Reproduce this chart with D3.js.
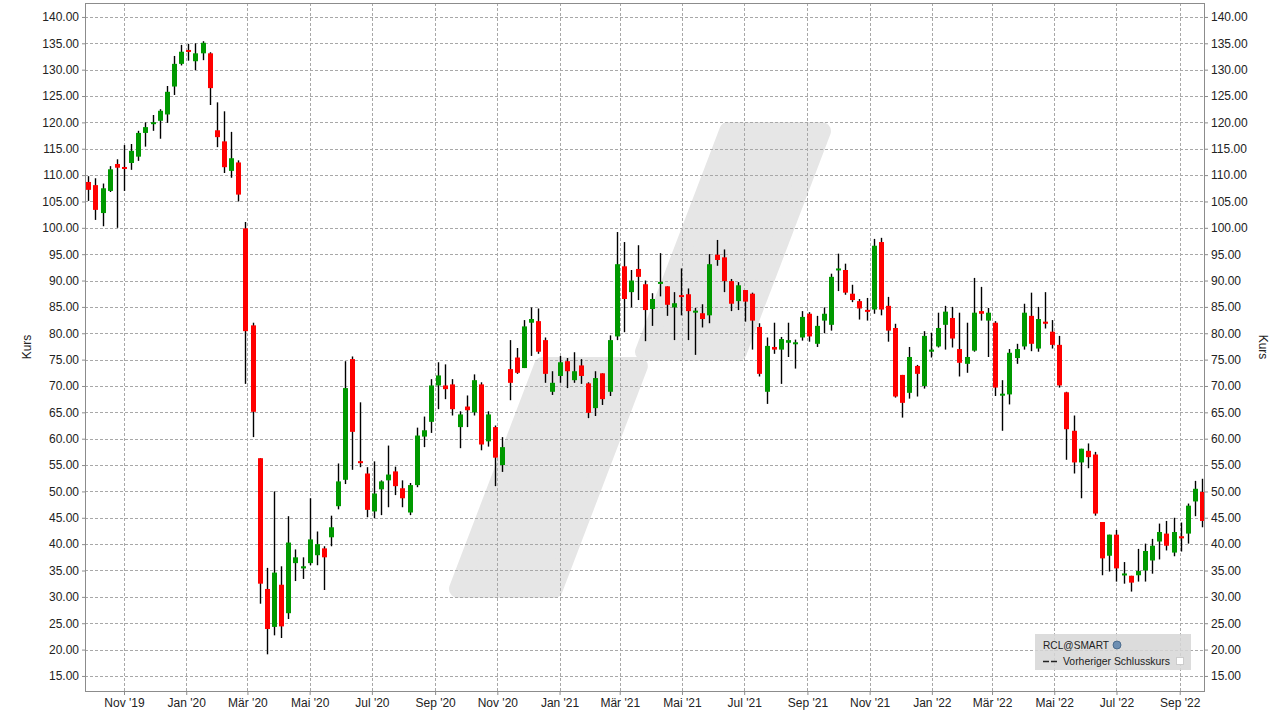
<!DOCTYPE html>
<html><head><meta charset="utf-8">
<script src="https://cdn.jsdelivr.net/npm/d3@7"></script>
<style>body{margin:0;background:#fff;}svg{display:block;font-family:"Liberation Sans",Arial,sans-serif;}</style>
</head><body><svg id="c" width="1279" height="720"></svg>
<script>
// weekly candles, first week ending 2019-09-27
const firstWeek = new Date(2019, 8, 27);
const open  = [108.7,108.1,102.8,107.0,112.1,111.5,112.3,113.5,118.0,119.7,120.3,121.5,126.8,131.1,133.7,131.6,133.1,133.1,118.5,116.4,110.8,112.4,99.9,81.5,56.3,31.5,24.3,32.3,26.9,36.4,35.4,36.4,37.9,39.2,41.3,47.2,52.2,75.1,55.7,53.4,46.2,50.4,52.1,53.8,50.6,46.0,51.2,60.4,63.2,70.1,70.1,70.3,62.2,66.1,65.0,70.3,59.5,62.2,55.0,73.2,75.4,73.4,82.0,82.3,78.7,68.9,71.9,74.7,71.1,73.9,70.5,65.8,72.4,68.9,79.4,92.7,87.8,92.2,89.3,84.6,89.4,88.9,84.9,87.2,87.4,84.0,83.8,83.4,94.9,94.4,89.9,86.1,88.2,87.5,81.2,68.9,77.4,76.9,78.2,78.0,79.2,83.7,78.0,82.4,81.6,92.0,92.0,87.5,86.1,84.4,84.5,97.3,85.2,81.0,72.1,68.7,73.8,70.0,76.5,77.5,81.6,82.9,77.0,74.2,76.7,84.2,82.4,82.0,68.2,68.4,75.3,77.5,83.3,77.1,82.2,80.3,77.8,68.8,61.5,55.5,57.7,57.0,44.2,37.8,41.8,34.1,34.0,34.1,35.0,36.9,40.5,42.0,38.4,41.5,42.0,48.1,49.9];
const high  = [109.8,109.4,108.4,111.7,113.0,115.7,115.9,118.4,120.0,121.4,122.5,126.9,132.6,134.7,134.9,135.0,135.4,133.3,123.8,122.1,118.2,112.8,101.1,82.0,56.3,35.5,50.0,35.8,45.3,39.0,37.5,48.7,42.4,39.6,45.4,55.3,74.7,75.6,66.9,54.6,55.7,52.1,58.7,54.7,52.1,51.6,62.1,64.2,71.3,74.5,74.1,71.3,65.2,68.2,72.2,70.7,65.2,62.5,60.3,78.7,77.2,82.5,84.9,84.7,79.2,72.8,75.7,75.3,76.4,75.1,70.7,72.8,72.4,79.6,99.2,97.3,92.0,96.7,90.0,87.6,95.2,88.9,87.8,92.3,88.5,84.8,85.5,95.0,97.7,95.9,90.3,89.7,88.2,87.7,81.9,79.2,82.0,79.3,82.0,78.8,84.2,84.0,83.3,84.9,91.3,95.1,93.2,89.2,86.5,86.7,97.9,98.1,86.9,81.8,72.1,77.4,74.0,80.4,80.1,83.9,85.2,85.0,83.9,82.0,90.5,88.8,84.8,82.3,71.1,77.0,78.0,85.6,87.7,85.0,87.8,82.5,79.5,68.9,64.4,58.1,59.1,57.5,44.2,41.8,42.7,36.6,34.0,39.1,40.1,41.0,43.9,44.4,45.0,44.1,47.7,52.0,52.4];
const low   = [105.1,101.5,100.3,106.8,100.0,107.0,111.0,112.7,115.4,118.4,116.9,119.9,125.2,130.8,131.7,129.9,131.8,123.3,115.3,110.4,109.5,105.0,70.4,60.3,28.7,19.1,22.7,22.2,25.8,33.0,33.4,36.0,36.0,31.3,39.6,46.6,51.4,54.1,54.6,45.1,44.9,45.5,47.0,49.3,47.0,45.5,50.8,58.4,61.1,65.6,67.5,64.4,58.2,62.2,64.4,57.8,58.5,51.0,53.7,67.3,72.3,73.4,75.7,76.1,70.6,68.3,70.6,69.6,70.6,70.4,63.9,64.3,66.4,68.1,78.7,80.2,84.9,86.3,78.5,81.4,87.0,83.3,78.7,83.4,78.7,75.9,81.1,81.9,92.8,87.8,84.2,84.4,82.2,76.9,71.8,66.6,76.1,70.4,75.5,73.3,78.6,78.4,77.4,80.0,80.5,88.0,87.3,85.9,82.6,82.4,83.7,83.4,78.4,67.8,64.0,67.6,68.0,69.5,75.4,77.3,76.9,77.3,71.8,72.5,76.5,82.4,75.5,68.1,61.5,66.5,74.2,76.9,76.6,76.5,80.9,77.1,69.7,56.0,53.4,48.7,54.4,45.4,34.1,34.8,32.9,32.5,31.0,32.9,32.9,34.4,37.1,38.8,37.7,38.6,40.1,45.3,43.2];
const close = [107.2,103.4,107.5,111.1,111.4,111.2,114.6,118.0,119.1,120.0,122.2,125.8,131.1,133.4,133.4,133.1,135.1,126.5,117.2,111.5,113.2,106.3,80.4,65.1,32.5,23.9,34.6,24.4,40.3,37.5,35.8,40.9,40.0,37.5,43.2,51.9,69.6,61.3,55.4,46.5,49.6,51.9,53.2,51.0,48.7,51.2,60.6,61.6,70.1,72.0,69.4,65.6,64.6,65.4,71.1,58.9,64.6,56.4,58.4,70.6,72.5,81.3,82.7,76.5,72.3,70.6,74.5,72.8,72.8,71.9,64.9,71.5,67.5,78.7,93.1,86.5,90.0,90.7,84.4,86.5,89.7,85.4,85.7,86.9,84.2,84.2,82.7,93.1,93.9,89.9,85.6,89.1,86.0,82.4,72.3,77.6,76.9,78.9,78.7,78.2,83.1,79.4,81.4,83.7,90.7,92.2,87.7,86.3,84.7,84.1,96.6,84.5,80.5,68.0,66.8,75.5,72.3,79.5,76.9,81.0,84.1,79.0,74.4,75.5,83.9,83.7,83.9,69.7,68.5,76.3,77.0,83.9,78.0,82.7,81.8,77.8,70.1,61.8,55.5,58.1,56.5,45.8,37.3,41.8,35.4,34.4,32.7,34.9,38.7,39.7,42.3,39.7,42.3,41.1,47.3,50.5,44.4];
const yTicks = [15,20,25,30,35,40,45,50,55,60,65,70,75,80,85,90,95,100,105,110,115,120,125,130,135,140];
const xTickDates = ["2019-11-01","2020-01-01","2020-03-01","2020-05-01","2020-07-01","2020-09-01","2020-11-01","2021-01-01","2021-03-01","2021-05-01","2021-07-01","2021-09-01","2021-11-01","2022-01-01","2022-03-01","2022-05-01","2022-07-01","2022-09-01"];
const xTickLabels = ["Nov '19","Jan '20","Mär '20","Mai '20","Jul '20","Sep '20","Nov '20","Jan '21","Mär '21","Mai '21","Jul '21","Sep '21","Nov '21","Jan '22","Mär '22","Mai '22","Jul '22","Sep '22"];
const legendTitle = "RCL@SMART";
const legendItem = "Vorheriger Schlusskurs";

const svg = d3.select("#c");
const L = 85, R = 1205, T = 3, B = 692;
const parse = s => { const p = s.split("-"); return new Date(+p[0], +p[1]-1, +p[2]); };
const dates = open.map((_, i) => d3.timeDay.offset(firstWeek, 7*i));
const x = d3.scaleTime().domain([new Date(2019,8,23,18), new Date(2022,8,25,19)]).range([L, R]);
const y = d3.scaleLinear().domain([135 - (B-43.3)/5.272, 135 + (43.3-T)/5.272]).range([B, T]);

// watermark (stepped slash made of two rounded bars)
const W = R - L, H = B - T;
const fx = f => L + f*W, fy = f => T + f*H;
const wmPieces = [
  [[0.5743,0.1858],[0.6580,0.1858],[0.5829,0.5065],[0.4991,0.5065]],
  [[0.4089,0.5269],[0.4945,0.5269],[0.4186,0.8505],[0.3330,0.8505]]
];
wmPieces.forEach(pc => svg.append("polygon")
  .attr("points", pc.map(p => fx(p[0]) + "," + fy(p[1])).join(" "))
  .attr("fill", "#e6e6e6").attr("stroke", "#e6e6e6")
  .attr("stroke-width", 18).attr("stroke-linejoin", "round"));

// gridlines
const grid = svg.append("g").attr("stroke", "#a8a8a8").attr("stroke-dasharray", "3,2").attr("stroke-width", 1);
yTicks.forEach(v => grid.append("line").attr("x1", L).attr("x2", R)
  .attr("y1", Math.round(y(v))+0.5).attr("y2", Math.round(y(v))+0.5));
xTickDates.forEach(d => grid.append("line").attr("y1", T).attr("y2", B)
  .attr("x1", Math.round(x(parse(d)))+0.5).attr("x2", Math.round(x(parse(d)))+0.5));

// candles
const cg = svg.append("g");
dates.forEach((d, i) => {
  const cx = Math.round(x(d)) + 0.5;
  const up = close[i] >= open[i];
  cg.append("line").attr("x1", cx).attr("x2", cx)
    .attr("y1", y(high[i])).attr("y2", y(low[i]))
    .attr("stroke", "#000").attr("stroke-width", 1.4);
  const top = y(Math.max(open[i], close[i])), bot = y(Math.min(open[i], close[i]));
  const h = Math.max(2, bot - top);
  cg.append("rect").attr("x", cx - 2.5).attr("width", 5)
    .attr("y", (top + bot)/2 - h/2).attr("height", h)
    .attr("fill", up ? "#009900" : "#ff0000");
});

// frame
svg.append("rect").attr("x", L+0.5).attr("y", T+0.5).attr("width", W-1).attr("height", H-1)
  .attr("fill", "none").attr("stroke", "#8c8c8c");

// axes
const yl = d3.axisLeft(y).tickValues(yTicks).tickFormat(d3.format(".2f")).tickSize(3);
const yr = d3.axisRight(y).tickValues(yTicks).tickFormat(d3.format(".2f")).tickSize(3);
const xb = d3.axisBottom(x).tickValues(xTickDates.map(parse)).tickFormat((d,i) => xTickLabels[i]).tickSize(3);
function style(g){ g.select(".domain").remove(); g.selectAll(".tick line").attr("stroke","#8c8c8c");
  g.selectAll("text").attr("font-size", 12).attr("fill", "#222").attr("font-family", "Liberation Sans, Arial, sans-serif"); }
svg.append("g").attr("transform", `translate(${L},0)`).call(yl).call(style);
svg.append("g").attr("transform", `translate(${R},0)`).call(yr).call(style);
svg.append("g").attr("transform", `translate(0,${B})`).call(xb).call(style);

svg.append("text").attr("transform", "translate(31,347) rotate(-90)").attr("text-anchor","middle")
  .attr("font-size", 12).attr("fill", "#222").text("Kurs");
svg.append("text").attr("transform", "translate(1259,347) rotate(90)").attr("text-anchor","middle")
  .attr("font-size", 12).attr("fill", "#222").text("Kurs");

// legend
const lg = svg.append("g").attr("transform", "translate(1035,634)");
lg.append("rect").attr("width", 156).attr("height", 36).attr("fill", "#d6d6d6").attr("fill-opacity", 0.85);
lg.append("text").attr("x", 8).attr("y", 15).attr("font-size", 11).attr("fill", "#222")
  .attr("textLength", 66).attr("lengthAdjust", "spacingAndGlyphs").text(legendTitle);
lg.append("circle").attr("cx", 82).attr("cy", 11).attr("r", 4).attr("fill", "#6d8fb3").attr("stroke", "#3d5f83").attr("stroke-width", 0.8);
lg.append("line").attr("x1", 8).attr("x2", 23).attr("y1", 27.5).attr("y2", 27.5)
  .attr("stroke", "#222").attr("stroke-width", 1.5).attr("stroke-dasharray", "6,2");
lg.append("text").attr("x", 28).attr("y", 31).attr("font-size", 11).attr("fill", "#222")
  .attr("textLength", 107).attr("lengthAdjust", "spacingAndGlyphs").text(legendItem);
lg.append("rect").attr("x", 141.5).attr("y", 23.5).attr("width", 7).attr("height", 7).attr("fill", "#fff").attr("stroke", "#ccc");
</script></body></html>
